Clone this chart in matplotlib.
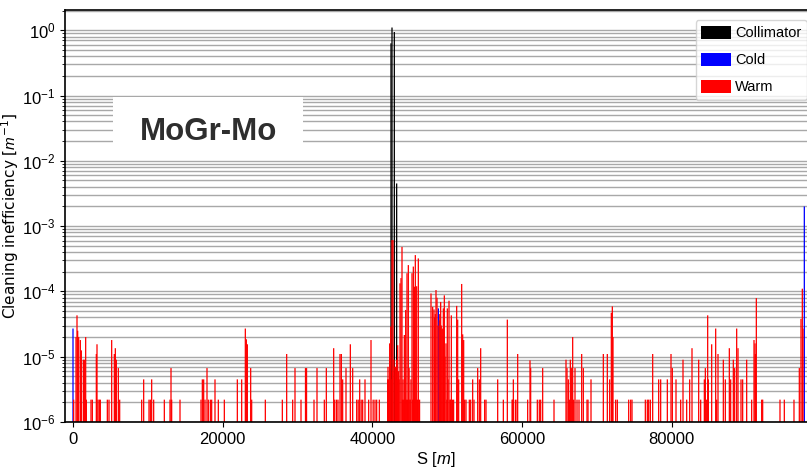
# libraries
import matplotlib
matplotlib.use("Agg")
import matplotlib.pyplot as plt
import matplotlib.patches as mpatches
import numpy as np

# Data (S in m, cleaning inefficiency in units of 1e-6 m^-1)
coll_s = [42484, 42618, 42929, 43241]
coll_v = [630000, 1100000, 940000, 4500]

cold_s = [0, 48808, 97705]
cold_v = [27, 55, 2000]

warm_s = [
    89, 401, 534, 623, 757, 980, 1113, 1380, 1514, 1692, 1781, 2405, 2583,
    3117, 3206, 3340, 3518, 3652, 4587, 4810, 5166, 5522, 5656, 5790, 6057,
    6235, 9174, 9441, 10154, 10332, 10510, 10777, 12202, 12959, 13093, 13182,
    14295, 17101, 17279, 17457, 17635, 17902, 18080, 18348, 18526, 18971,
    19416, 20218,
    21955, 22534, 23024, 23157, 23291, 23736, 23870, 25696, 27967, 28546,
    29347, 29659, 30461, 31062, 31200, 32198, 32598, 33578, 33845, 34825,
    34960, 35200, 35400, 35671, 35849, 36027, 36473, 37052, 37363, 37900,
    38100, 38299, 38500, 38700, 39011, 39500, 39813, 40100, 40347, 40570,
    40926,
    42040, 42084, 42150, 42180, 42306, 42440, 42500, 42618, 42700, 42750,
    42880, 43000, 43100, 43150, 43241, 43300, 43380, 43430, 43500, 43570,
    43687, 43821, 43954, 44000, 44090, 44180, 44266, 44350, 44444, 44530,
    44622, 44700, 44800, 44900, 45000, 45050, 45150, 45290, 45380, 45468,
    45550, 45602, 45735, 45820, 45914, 46030, 46136, 46300,
    47829, 48051, 48229, 48300, 48400, 48497, 48630, 48760, 48943, 49000,
    49120, 49200, 49298, 49400, 49476, 49550, 49610, 49700, 49832, 49950,
    50010, 50100, 50234, 50350, 50450, 50545, 50700, 50850, 51258, 51392,
    51525, 51926, 52060, 52193, 52327, 52505, 52950, 53128, 53395, 53573,
    54063, 54286, 54464, 54998, 55176, 56736, 57493, 58027, 58660, 58740,
    58829, 59100, 59320, 59407, 60743, 61055, 61144, 62035, 62300, 62480,
    62747, 64262,
    65865, 65999, 66177, 66310, 66444, 66622, 66756, 66890, 67067, 67335,
    67602, 67958, 68180, 68670, 68804, 69205, 70852, 71386, 71698, 71921,
    72054, 72143, 72500, 72723, 74238, 74505, 74683, 76464, 76731, 76909,
    77132, 77444, 78245, 78512, 79403, 79893, 80071, 80561, 81184, 81496,
    81986, 82387, 82698, 83590, 83857, 84347, 84480, 84659, 84792, 84881,
    85326, 85861, 85994, 86172, 86884, 87151, 87686, 87864, 88220, 88398,
    88666, 88844, 89245, 89467, 90002, 90670, 90982, 91116, 91160, 91293,
    92005, 92139, 94453, 95032, 96323, 97036, 97260, 97438, 97527,
]
warm_v = [
    2.2, 20, 43, 25, 20, 18, 12.5, 9, 9, 20, 2.2, 2.2, 2.2,
    11, 15.5, 2.2, 2.2, 2.2, 2.2, 2.2, 18, 11, 13.5, 9, 6.7,
    2.2, 2.2, 4.5, 2.2, 2.2, 4.5, 2.2, 2.2, 2.2, 6.7, 2.2,
    2.2, 2.2, 4.5, 4.5, 2.2, 6.7, 2.2, 2.2, 2.2, 4.5,
    2.2, 2.2,
    4.5, 4.5, 27, 18.5, 15.5, 6.7, 2.2, 2.2, 2.2, 11,
    2.2, 6.7, 2.2, 6.7, 6.7, 2.2, 6.7, 2.2, 6.7, 13.5,
    2.2, 2.2, 2.2, 11, 11, 4.5, 6.7, 15.5, 6.7, 2.2,
    2.2, 4.5, 2.2, 2.2, 4.5, 2.2, 18, 2.2, 2.2, 2.2,
    2.2,
    4.5, 7, 4.5, 3, 16, 29, 4.5, 610, 6, 610,
    9, 7, 7, 4.5, 9, 4.5, 15, 2.2, 6, 4.5,
    133, 160, 480, 2.2, 4.5, 2.2, 21.5, 2.2, 52, 2.2,
    190, 2.2, 253, 6.7, 2.2, 2.2, 4.5, 190, 2.2, 240,
    2.2, 118, 360, 2.2, 120, 2.2, 320, 2.2,
    93, 58, 53, 40, 45, 105, 80, 30, 36, 45,
    69, 30, 26, 27, 55, 20, 87, 10, 16, 2.2,
    55, 4.5, 72, 2.2, 2.2, 43, 2.2, 2.2, 60, 37,
    4.5, 130, 22, 18, 2.2, 2.2, 2.2, 2.2, 4.5, 2.2,
    6.7, 4.5, 13.5, 2.2, 2.2, 4.5, 2.2, 37, 2.2, 2.2,
    4.5, 2.2, 2.2, 11, 2.2, 8.8, 6.7, 2.2, 2.2, 2.2,
    6.7, 2.2,
    9, 6.7, 4.5, 2.2, 9, 6.7, 20, 2.2, 6.7, 2.2,
    2.2, 11, 6.7, 2.2, 2.2, 4.5, 11, 11, 4.5, 47,
    59, 20, 2.2, 2.2, 2.2, 2.2, 2.2, 2.2, 2.2, 2.2,
    2.2, 11, 4.5, 4.5, 4.5, 11, 6.7, 4.5, 2.2, 9,
    2.2, 4.5, 13.5, 9, 2.2, 4.5, 6.7, 2.2, 43, 4.5,
    15.5, 27, 2.2, 11, 9, 4.5, 13.5, 4.5, 9, 6.7,
    27, 13.5, 4.5, 4.5, 9, 2.2, 18, 16, 11, 79,
    2.2, 2.2, 2.2, 2.2, 2.2, 6.7, 38, 110, 27,
]

x_ticks = [0, 20000, 40000, 60000, 80000]

plt.rcParams['mathtext.fontset'] = 'custom'
plt.rcParams['mathtext.rm'] = 'Liberation Sans'
plt.rcParams['mathtext.it'] = 'Liberation Sans:italic'
plt.rcParams['mathtext.default'] = 'regular'
tick_font = 'Liberation Sans'

# Plot
fig = plt.figure(figsize=(8.07, 4.76), dpi=100)
ax = fig.add_axes([65 / 807, 54 / 476, 742 / 807, 412 / 476])

bw = 170
ax.bar(coll_s, np.array(coll_v) * 1e-6, width=bw, color='black', linewidth=0,
       snap=False, label='Collimator')
ax.bar(cold_s, np.array(cold_v) * 1e-6, width=bw, color='blue', linewidth=0,
       snap=False, label='Cold')
ax.bar(warm_s, np.array(warm_v) * 1e-6, width=bw, color='red', linewidth=0,
       snap=False, label='Warm')

ax.set_yscale('log')
ax.set_ylim(1e-6, 2.04)
ax.set_xlim(-1069, 98062)
ax.set_xticks(x_ticks)
ax.set_xticklabels([str(t) for t in x_ticks], family=tick_font, fontsize=12)
ax.tick_params(axis='y', labelsize=12)
for lab in ax.get_yticklabels():
    lab.set_family(tick_font)

ax.set_axisbelow(True)
ax.yaxis.grid(True, which='both', color='#a8a8a8', linewidth=1)
ax.spines['right'].set_visible(False)
for sp in ['left', 'bottom', 'top']:
    ax.spines[sp].set_linewidth(1.2)

ax.set_ylabel(r'Cleaning inefficiency [$\mathit{m}^{-1}$]', fontsize=11, family='DejaVu Sans')
ax.yaxis.set_label_coords(-0.059, 0.5)
ax.set_xlabel(r'S [$\mathit{m}$]', fontsize=12, family=tick_font)
ax.xaxis.set_label_coords(0.5, -0.068)

# label box
ax.add_patch(mpatches.Rectangle((0.0647, 0.643), 0.256, 0.146, transform=ax.transAxes,
                                facecolor='white', edgecolor='none', zorder=2))
ax.text(0.193, 0.705, 'MoGr-Mo', transform=ax.transAxes, ha='center', va='center',
        fontsize=22.5, fontweight='bold', family='Liberation Sans', color='#2e2e2e', zorder=3)

ax.legend(loc='upper right', bbox_to_anchor=(1.0, 0.976), borderaxespad=0,
          prop={'family': tick_font, 'size': 10.5}, handlelength=2.0, handleheight=1.0,
          handletextpad=0.3, labelspacing=0.85)

fig.savefig('out.png', dpi=100)
